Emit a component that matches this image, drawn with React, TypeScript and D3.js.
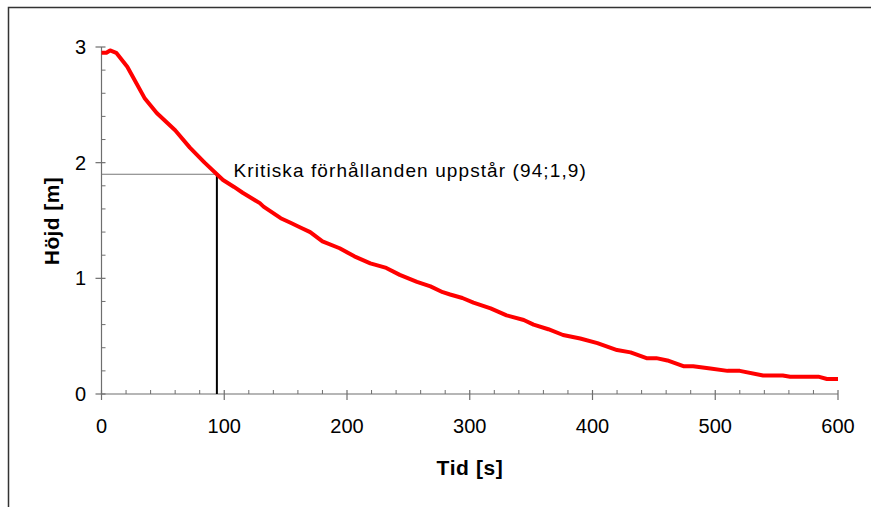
import React from "react";
import * as d3 from "d3";

// Tid [s] / Höjd [m]
const tid = [0, 4, 7, 12, 21, 35, 45, 60, 72, 84, 94, 99, 108, 115, 129, 132, 146, 154, 162, 170, 180, 194, 206, 219, 232, 243, 257, 268, 278, 284, 294, 303, 317, 330, 344, 352, 364, 376, 390, 404, 420, 431, 444, 452, 461, 474, 482, 496, 510, 520, 539, 555, 561, 584, 591, 600];
const hojd = [2.95, 2.95, 2.97, 2.95, 2.83, 2.56, 2.43, 2.28, 2.13, 2.0, 1.9, 1.85, 1.79, 1.74, 1.65, 1.62, 1.52, 1.48, 1.44, 1.4, 1.32, 1.26, 1.19, 1.13, 1.09, 1.03, 0.97, 0.93, 0.88, 0.86, 0.83, 0.79, 0.74, 0.68, 0.64, 0.6, 0.56, 0.51, 0.48, 0.44, 0.38, 0.36, 0.31, 0.31, 0.29, 0.24, 0.24, 0.22, 0.2, 0.2, 0.16, 0.16, 0.15, 0.15, 0.13, 0.13];

const xTicks = [0, 100, 200, 300, 400, 500, 600];
const yTicks = [0, 1, 2, 3];
const kritisk = { t: 94, h: 1.9, label: "Kritiska förhållanden uppstår (94;1,9)" };

const W = 871;
const H = 507;
const font = "'Liberation Sans', Arial, sans-serif";

export default function App() {
  const x = d3.scaleLinear().domain([0, 600]).range([101.5, 838]);
  const y = d3.scaleLinear().domain([0, 3]).range([394, 47]);

  const line = d3
    .line<number>()
    .x((_, i) => x(tid[i]))
    .y((d) => y(d));

  const xMinor = d3.range(0, 601, 20).filter((v) => v % 100 !== 0);
  const yMinor = d3.range(0, 3.001, 0.2).map((v) => +v.toFixed(1)).filter((v) => v % 1 !== 0);
  const axisColor = "#6e6e6e";

  return (
    <svg width={W} height={H} style={{ position: "absolute", left: 0, top: 0 }} fontFamily={font}>
      <rect x={0} y={0} width={W} height={H} fill="#fff" />
      {/* frame */}
      <path d={`M8.5,${H} V7.5 H${W}`} fill="none" stroke="#333" strokeWidth={1.5} />

      {/* axes */}
      <line x1={x(0)} x2={x(600)} y1={y(0)} y2={y(0)} stroke={axisColor} strokeWidth={1.2} />
      <line x1={x(0)} x2={x(0)} y1={y(0)} y2={y(3)} stroke={axisColor} strokeWidth={1.2} />
      {xTicks.map((t) => (
        <g key={"xt" + t}>
          <line x1={x(t)} x2={x(t)} y1={y(0) - 4} y2={y(0) + 6} stroke={axisColor} strokeWidth={1.2} />
          <text x={x(t)} y={433} textAnchor="middle" fontSize={20} fill="#000">
            {t}
          </text>
        </g>
      ))}
      {xMinor.map((t) => (
        <line key={"xm" + t} x1={x(t)} x2={x(t)} y1={y(0) - 4} y2={y(0)} stroke={axisColor} strokeWidth={1} />
      ))}
      {yTicks.map((h) => (
        <g key={"yt" + h}>
          <line x1={x(0) - 6} x2={x(0) + 4} y1={y(h)} y2={y(h)} stroke={axisColor} strokeWidth={1.2} />
          <text x={86} y={y(h) + 7} textAnchor="end" fontSize={20} fill="#000">
            {h}
          </text>
        </g>
      ))}
      {yMinor.map((h) => (
        <line key={"ym" + h} x1={x(0)} x2={x(0) + 4} y1={y(h)} y2={y(h)} stroke={axisColor} strokeWidth={1} />
      ))}

      {/* annotation */}
      <line x1={x(0)} x2={x(kritisk.t)} y1={y(kritisk.h)} y2={y(kritisk.h)} stroke="#777" strokeWidth={1.2} />
      <line x1={x(kritisk.t)} x2={x(kritisk.t)} y1={y(0)} y2={y(kritisk.h)} stroke="#000" strokeWidth={2} />
      <text x={233.5} y={177} fontSize={19} letterSpacing={1.1} fill="#000">
        {kritisk.label}
      </text>

      <path d={line(hojd) ?? ""} fill="none" stroke="#ff0000" strokeWidth={4} strokeLinejoin="round" />

      {/* titles */}
      <text x={470} y={475} textAnchor="middle" fontSize={21} letterSpacing={0.6} fontWeight="bold" fill="#000">
        Tid [s]
      </text>
      <text
        transform={`translate(59,221) rotate(-90)`}
        textAnchor="middle"
        fontSize={21}
        letterSpacing={0.4}
        fontWeight="bold"
        fill="#000"
      >
        Höjd [m]
      </text>
    </svg>
  );
}
